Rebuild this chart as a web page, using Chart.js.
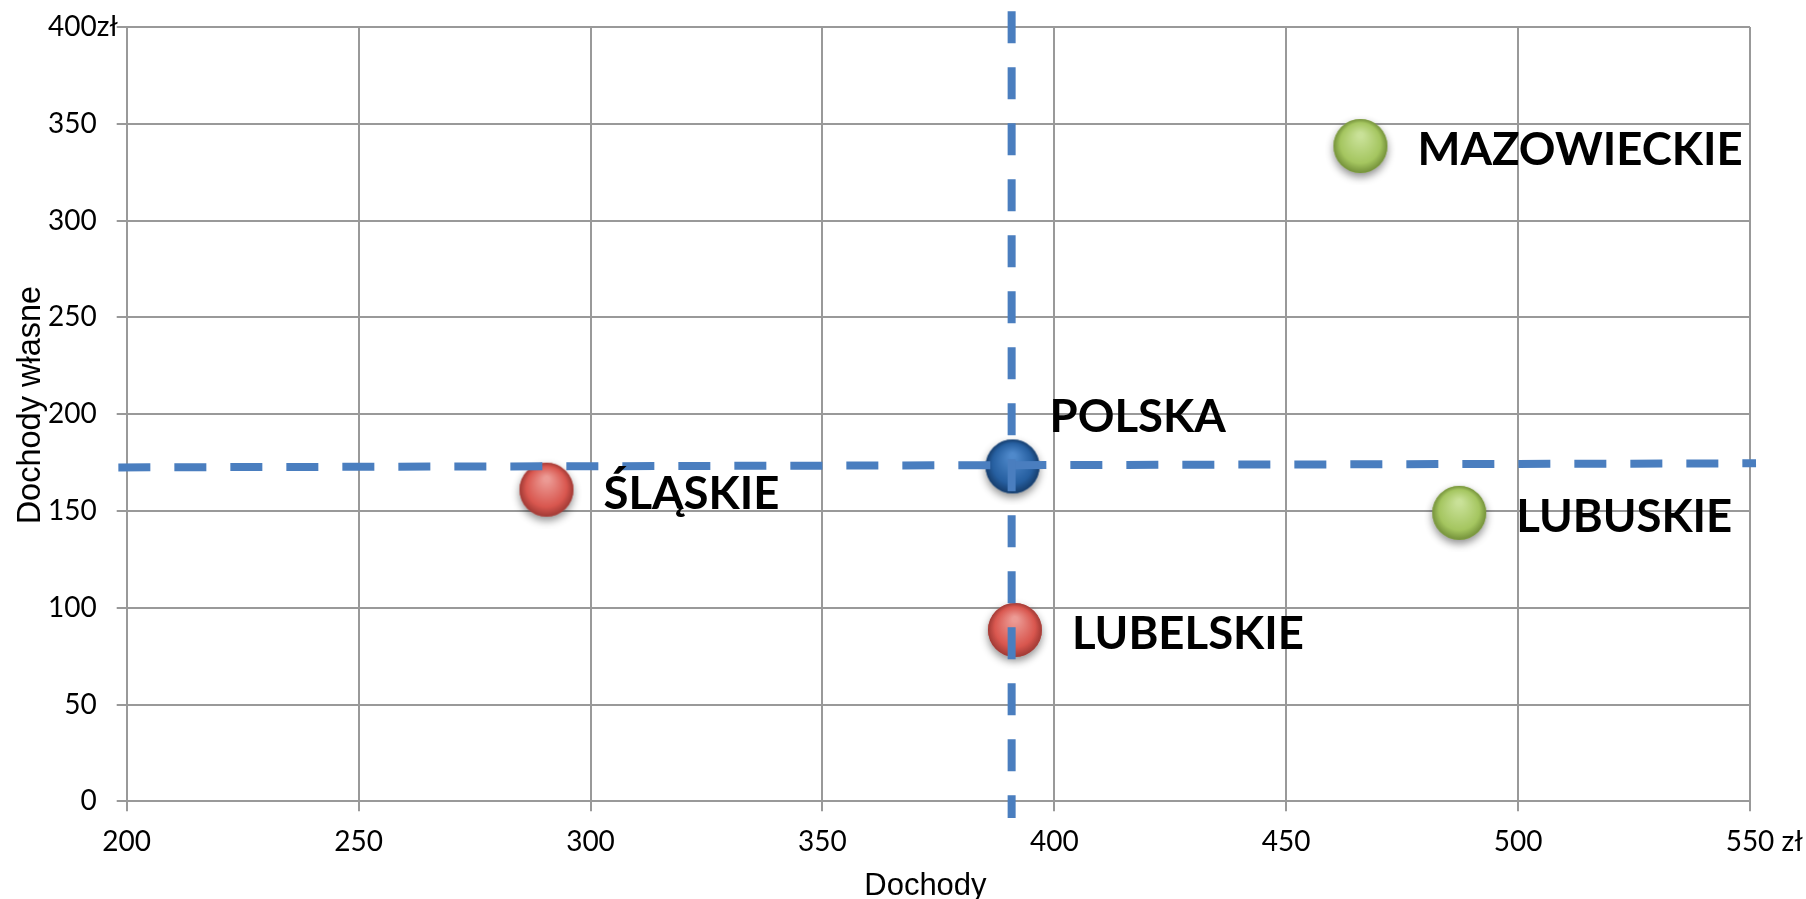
<!DOCTYPE html>
<html lang="pl">
<head>
<meta charset="utf-8">
<title>Dochody a dochody własne</title>
<script src="https://cdn.jsdelivr.net/npm/chart.js@4.4.1/dist/chart.umd.min.js"></script>
<style>
  html, body { margin: 0; padding: 0; background: #fff; }
  #wrap { width: 1806px; height: 899px; }
</style>
</head>
<body>
<div id="wrap"><canvas id="dochody-chart"></canvas></div>
<script>
// regions: total income vs own income per inhabitant (zł)
const regions = ['ŚLĄSKIE', 'POLSKA', 'LUBELSKIE', 'MAZOWIECKIE', 'LUBUSKIE']
const dochody = [290.5, 391, 391.5, 466, 487.3]
const dochodyWlasne = [161, 173, 88.5, 338.5, 149]
const groups = ['low', 'avg', 'low', 'high', 'high']

// national average guide lines (dashed)
const avgVertX = [390.8, 390.8]
const avgVertY = [408.2, -8.6]
const avgHorizX = [198.2, 551.3]
const avgHorizY = [172.5, 174.6]

const xTicks = [200, 250, 300, 350, 400, 450, 500, 550]
const yTicks = [0, 50, 100, 150, 200, 250, 300, 350, 400]

const tickFont = { family: 'Lato', size: 28 }
const gridColor = '#999999'
const nbsp = '\u00a0'

// shaded ball used as the point marker
const makeBall = (light, base, dark) => {
  const r = 27
  const pad = 12
  const size = Math.ceil(2 * (r + pad))
  const c = document.createElement('canvas')
  c.width = size
  c.height = size
  const g = c.getContext('2d')
  const cx = size / 2
  const cy = size / 2
  g.save()
  g.shadowColor = 'rgba(0,0,0,0.45)'
  g.shadowBlur = 8
  g.shadowOffsetY = 4
  g.beginPath()
  g.arc(cx, cy, r, 0, Math.PI * 2)
  g.fillStyle = base
  g.fill()
  g.restore()
  const grad = g.createRadialGradient(cx, cy - r * 0.4, r * 0.1, cx, cy, r)
  grad.addColorStop(0, light)
  grad.addColorStop(0.72, base)
  grad.addColorStop(1, dark)
  g.beginPath()
  g.arc(cx, cy, r, 0, Math.PI * 2)
  g.fillStyle = grad
  g.fill()
  return c
}

const balls = {
  low: makeBall('#ec9a94', '#d9574f', '#a03a35'),
  high: makeBall('#c9e198', '#a5c660', '#74913a'),
  avg: makeBall('#4f89cb', '#265fa0', '#163d6c')
}

const toPoints = (xs, ys) => xs.map((x, i) => ({ x, y: ys[i] }))

// region names next to the balls
const regionLabels = {
  id: 'regionLabels',
  afterDatasetsDraw (chart) {
    const { ctx } = chart
    const meta = chart.getDatasetMeta(2)
    ctx.save()
    ctx.font = 'bold 45.5px Lato'
    ctx.fillStyle = '#000'
    ctx.textBaseline = 'alphabetic'
    ctx.textAlign = 'left'
    meta.data.forEach((pt, i) => {
      if (groups[i] === 'avg') {
        ctx.fillText(regions[i], pt.x + 37, pt.y - 34)
      } else {
        ctx.fillText(regions[i], pt.x + 57, pt.y + 19)
      }
    })
    ctx.restore()
  }
}

// currency suffix after the last tick label of each axis
const currencySuffix = {
  id: 'currencySuffix',
  afterDraw (chart) {
    const { ctx, scales } = chart
    ctx.save()
    ctx.font = `${tickFont.size}px ${tickFont.family}`
    ctx.fillStyle = '#000'
    ctx.textBaseline = 'middle'
    ctx.textAlign = 'left'
    const yItem = scales.y._labelItems.find(it => it.label === '400')
    if (yItem) {
      const [tx, ty] = yItem.options.translation
      ctx.fillText('zł', tx, ty + (yItem.textOffset || 0))
    }
    const xItem = scales.x._labelItems.find(it => it.label === '550')
    if (xItem) {
      const [tx, ty] = xItem.options.translation
      const w = ctx.measureText('550').width
      ctx.fillText(' zł', tx + w / 2, ty + (xItem.textOffset || 0))
    }
    ctx.restore()
  }
}

const ctx = document.getElementById('dochody-chart').getContext('2d')
new Chart(ctx, {
  type: 'scatter',
  data: {
    datasets: [
      {
        type: 'line',
        data: toPoints(avgVertX, avgVertY),
        borderColor: '#4a7ebf',
        borderWidth: 8,
        borderDash: [32, 24],
        borderCapStyle: 'butt',
        pointRadius: 0,
        clip: false,
        order: 0
      },
      {
        type: 'line',
        data: toPoints(avgHorizX, avgHorizY),
        borderColor: '#4a7ebf',
        borderWidth: 8,
        borderDash: [32, 24],
        borderCapStyle: 'butt',
        pointRadius: 0,
        clip: false,
        order: 0
      },
      {
        data: toPoints(dochody, dochodyWlasne),
        pointStyle: groups.map(g => balls[g]),
        pointRadius: 27,
        clip: false,
        order: 1
      }
    ]
  },
  options: {
    responsive: true,
    maintainAspectRatio: false,
    animation: false,
    layout: { autoPadding: false, padding: { top: 27, right: 56, left: 0, bottom: 0 } },
    plugins: {
      legend: { display: false },
      tooltip: { enabled: false }
    },
    scales: {
      x: {
        type: 'linear',
        min: 200,
        max: 550,
        afterBuildTicks: scale => { scale.ticks = xTicks.map(v => ({ value: v })) },
        afterFit: scale => { scale.height = 97.7 },
        grid: { color: gridColor, lineWidth: 2, tickLength: 10 },
        border: { color: gridColor, width: 2 },
        ticks: { font: tickFont, color: '#000', padding: 14, maxRotation: 0 },
        title: {
          display: true,
          text: 'Dochody' + nbsp.repeat(3),
          font: { family: 'Liberation Sans', size: 31, lineHeight: 1 },
          color: '#000',
          padding: { top: 0, bottom: -3 }
        }
      },
      y: {
        type: 'linear',
        min: 0,
        max: 400,
        afterBuildTicks: scale => { scale.ticks = yTicks.map(v => ({ value: v })) },
        afterFit: scale => {
          scale.width = 126.7
          scale.paddingTop = 0
          scale.paddingBottom = 0
        },
        grid: { color: gridColor, lineWidth: 2, tickLength: 10 },
        border: { color: gridColor, width: 2 },
        ticks: { font: tickFont, color: '#000', padding: 20 },
        title: {
          display: true,
          text: nbsp.repeat(2) + 'Dochody własne',
          font: { family: 'Liberation Sans', size: 32.5 },
          color: '#000',
          padding: { top: 12, bottom: 0 }
        }
      }
    }
  },
  plugins: [regionLabels, currencySuffix]
})
</script>
</body>
</html>
